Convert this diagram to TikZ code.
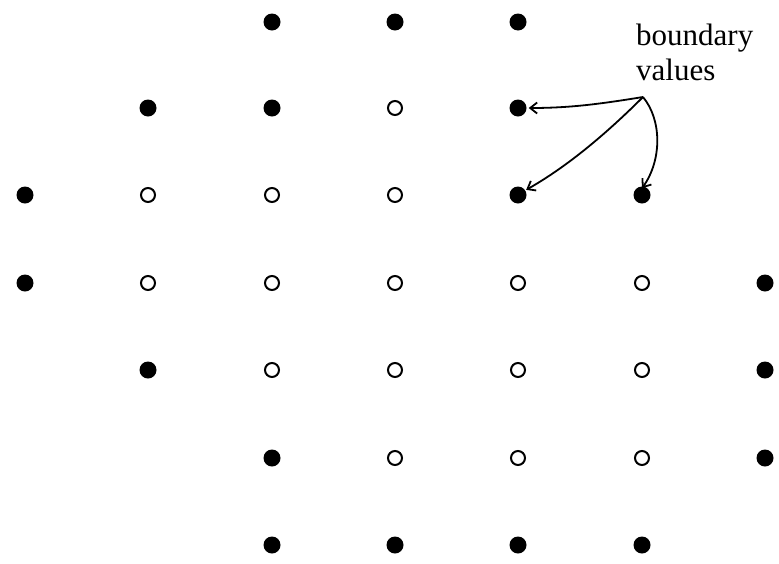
\documentclass[tikz,border=0pt]{standalone}
\usepackage{fontspec}
\setmainfont{Liberation Serif}
\usetikzlibrary{arrows.meta}
\begin{document}
\begin{tikzpicture}[x=1pt,y=-1pt,
  fdot/.style={circle,fill=black,inner sep=0pt,minimum size=17pt},
  odot/.style={circle,draw=black,line width=2pt,fill=white,inner sep=0pt,minimum size=14pt},
  arr/.style={line width=1.8pt,-{Straight Barb[length=7pt,width=11pt,line width=1.8pt]}},
  lbl/.style={font=\fontsize{31}{35}\selectfont,align=left,inner sep=0pt}]
\useasboundingbox (0,0) rectangle (779,563);
% columns: 25,148,272,395,518,642,765 ; rows: 22,108,195,283,370,458,545
% row 0
\node[fdot] (r0c2) at (272,22) {};
\node[fdot] (r0c3) at (395,22) {};
\node[fdot] (r0c4) at (518,22) {};
% row 1
\node[fdot] (r1c1) at (148,108) {};
\node[fdot] (r1c2) at (272,108) {};
\node[odot] (r1c3) at (395,108) {};
\node[fdot] (r1c4) at (518,108) {};
% row 2
\node[fdot] (r2c0) at (25,195) {};
\node[odot] (r2c1) at (148,195) {};
\node[odot] (r2c2) at (272,195) {};
\node[odot] (r2c3) at (395,195) {};
\node[fdot] (r2c4) at (518,195) {};
\node[fdot] (r2c5) at (642,195) {};
% row 3
\node[fdot] (r3c0) at (25,283) {};
\node[odot] (r3c1) at (148,283) {};
\node[odot] (r3c2) at (272,283) {};
\node[odot] (r3c3) at (395,283) {};
\node[odot] (r3c4) at (518,283) {};
\node[odot] (r3c5) at (642,283) {};
\node[fdot] (r3c6) at (765,283) {};
% row 4
\node[fdot] (r4c1) at (148,370) {};
\node[odot] (r4c2) at (272,370) {};
\node[odot] (r4c3) at (395,370) {};
\node[odot] (r4c4) at (518,370) {};
\node[odot] (r4c5) at (642,370) {};
\node[fdot] (r4c6) at (765,370) {};
% row 5
\node[fdot] (r5c2) at (272,458) {};
\node[odot] (r5c3) at (395,458) {};
\node[odot] (r5c4) at (518,458) {};
\node[odot] (r5c5) at (642,458) {};
\node[fdot] (r5c6) at (765,458) {};
% row 6
\node[fdot] (r6c2) at (272,545) {};
\node[fdot] (r6c3) at (395,545) {};
\node[fdot] (r6c4) at (518,545) {};
\node[fdot] (r6c5) at (642,545) {};
% label
\node[lbl,anchor=base west] (lab) at (636,80) {boundary\\values};
\coordinate (src) at (643,97);
\draw[arr] (src) .. controls (600,104) and (570,108) .. ([xshift=2pt]r1c4.east);
\draw[arr] (src) .. controls (610,130) and (570,165) .. ([shift={(2pt,-1pt)}]r2c4.north east);
\draw[arr] (src) .. controls (662,120) and (662,160) .. ([yshift=-2pt]r2c5.north);
\end{tikzpicture}
\end{document}
